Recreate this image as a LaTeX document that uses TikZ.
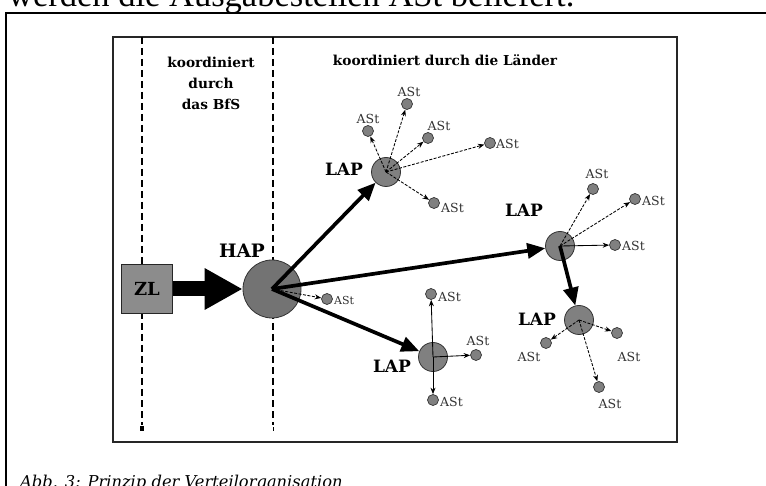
\documentclass[tikz,border=0pt]{standalone}
\usepackage{fontspec}
\setmainfont{DejaVu Serif}
\newfontfamily\timesf{Liberation Serif}
\usetikzlibrary{arrows.meta}
\begin{document}
\begin{tikzpicture}[x=1pt,y=-1pt,
  lapcirc/.style={circle, draw=black!80, line width=0.8pt, fill=black!50, minimum size=29pt, inner sep=0pt},
  hapcirc/.style={lapcirc, fill=black!55, minimum size=58pt},
  astcirc/.style={circle, draw=black!80, line width=0.7pt, fill=black!50, minimum size=11pt, inner sep=0pt},
  zlbox/.style={draw=black!85, line width=0.9pt, fill=black!45, minimum width=51pt, minimum height=49pt, inner sep=0pt, font=\bfseries\fontsize{18}{18}\selectfont},
  haplabel/.style={font=\bfseries\fontsize{18.5}{18.5}\selectfont, inner sep=0pt},
  aplabel/.style={font=\bfseries\fontsize{17}{17}\selectfont, inner sep=0pt},
  astlabel/.style={font=\fontsize{12.5}{12.5}\selectfont, text=black!80, inner sep=0pt},
  hdr/.style={font=\bfseries\fontsize{13.7}{21}\selectfont, align=center, inner sep=0pt},
  mainarrow/.style={line width=3.7pt, -{Triangle[length=18pt,width=15pt]}},
  astarrow/.style={line width=0.85pt, -{Stealth[length=6.5pt,width=5pt]}},
  astdash/.style={astarrow, dash pattern=on 3pt off 1.5pt},
  divider/.style={line width=1.1pt, dash pattern=on 7pt off 4pt},
]
\useasboundingbox (0,0) rectangle (766,486);
\clip (0,0) rectangle (766,486);

% page text (cut off)
\node[anchor=base west, inner sep=0pt, font=\timesf\fontsize{34.5}{34.5}\selectfont] (toptext) at (8,7) {werden die Ausgabestellen ASt beliefert.};
\node[anchor=base west, inner sep=0pt, font=\itshape\fontsize{16.3}{16.3}\selectfont] (caption) at (20,487) {Abb. 3: Prinzip der Verteilorganisation};

% frames
\draw[line width=1.8pt] (6,495) -- (6,13) -- (775,13);
\draw[line width=1.2pt, black!85] (113,37) rectangle (677,442);

% dividers
\draw[divider] (142,37) -- (142,425);
\fill (140,426) rectangle (144,431);
\draw[divider] (273,37) -- (273,425);
\draw[line width=0.6pt] (273,427) -- (273,431);

% headers
\node[hdr, anchor=base] (h1) at (211,110) {koordiniert\\durch\\das BfS};
\node[hdr, anchor=base] (h2) at (445,66) {koordiniert durch die Länder};

% main nodes
\node[zlbox] (zl) at (147,289) {ZL};
\node[hapcirc] (hap) at (272,289) {};
\node[haplabel] (haplbl) at (242,251) {HAP};

\node[lapcirc] (lap1) at (386,172) {};
\node[aplabel] (lap1lbl) at (344,169) {LAP};
\node[lapcirc] (lap2) at (560,246) {};
\node[aplabel] (lap2lbl) at (524,210) {LAP};
\node[lapcirc] (lap3) at (579,320) {};
\node[aplabel] (lap3lbl) at (537,319) {LAP};
\node[lapcirc] (lap4) at (433,357) {};
\node[aplabel] (lap4lbl) at (392,366) {LAP};

% ASt nodes
\node[astcirc] (a0) at (327,299) {};
\node[astlabel, anchor=west, font=\fontsize{11}{11}\selectfont] (a0l) at (334,300) {ASt};

\node[astcirc] (a11) at (368,131) {};
\node[astlabel] (a11l) at (368,119) {ASt};
\node[astcirc] (a12) at (407,104) {};
\node[astlabel] (a12l) at (409,92) {ASt};
\node[astcirc] (a13) at (428,138) {};
\node[astlabel] (a13l) at (439,126) {ASt};
\node[astcirc] (a14) at (490,143) {};
\node[astlabel, anchor=west] (a14l) at (496,144) {ASt};
\node[astcirc] (a15) at (434,203) {};
\node[astlabel, anchor=west] (a15l) at (441,208) {ASt};

\node[astcirc] (a21) at (593,189) {};
\node[astlabel] (a21l) at (597,174) {ASt};
\node[astcirc] (a22) at (635,199) {};
\node[astlabel, anchor=west] (a22l) at (642,201) {ASt};
\node[astcirc] (a23) at (615,245) {};
\node[astlabel, anchor=west] (a23l) at (622,246) {ASt};

\node[astcirc] (a31) at (546,343) {};
\node[astlabel] (a31l) at (529,357) {ASt};
\node[astcirc] (a32) at (617,333) {};
\node[astlabel] (a32l) at (629,357) {ASt};
\node[astcirc] (a33) at (599,387) {};
\node[astlabel] (a33l) at (610,404) {ASt};

\node[astcirc] (a41) at (431,294) {};
\node[astlabel, anchor=west] (a41l) at (438,297) {ASt};
\node[astcirc] (a42) at (476,355) {};
\node[astlabel] (a42l) at (478,341) {ASt};
\node[astcirc] (a43) at (433,400) {};
\node[astlabel, anchor=west] (a43l) at (440,402) {ASt};

% big arrow ZL -> HAP
\draw[line width=15pt, -{Triangle[length=38pt,width=39pt]}] (zl.east) -- (hap.west);

% thick arrows
\draw[mainarrow] (hap.center) -- (lap1);
\draw[mainarrow] (hap.center) -- (lap2);
\draw[mainarrow] (hap.center) -- (lap4);
\draw[mainarrow] (lap2.center) -- (lap3);

% thin arrows
\draw[astdash] (hap.center) -- (a0);

\draw[astdash] (lap1.center) -- (a11);
\draw[astdash] (lap1.center) -- (a12);
\draw[astdash] (lap1.center) -- (a13);
\draw[astdash] (lap1.center) -- (a14);
\draw[astdash] (lap1.center) -- (a15);

\draw[astdash] (lap2.center) -- (a21);
\draw[astdash] (lap2.center) -- (a22);
\draw[astarrow] (lap2.center) -- (a23);

\draw[astdash] (lap3.center) -- (a31);
\draw[astdash] (lap3.center) -- (a32);
\draw[astdash] (lap3.center) -- (a33);

\draw[astarrow] (lap4.center) -- (a41);
\draw[astarrow] (lap4.center) -- (a42);
\draw[astarrow] (lap4.center) -- (a43);
\end{tikzpicture}
\end{document}
